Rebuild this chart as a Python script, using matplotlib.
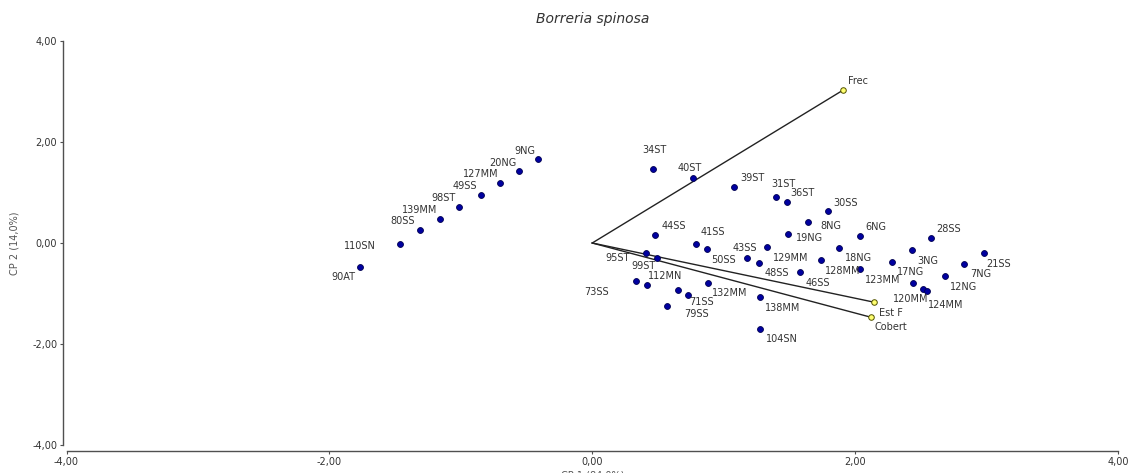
import matplotlib
matplotlib.use("Agg")
import matplotlib.pyplot as plt
from matplotlib.ticker import FuncFormatter

# observations (CP1, CP2)
obs_names = ["9NG", "20NG", "127MM", "49SS", "98ST", "139MM", "80SS", "110SN", "90AT",
             "34ST", "40ST", "39ST", "31ST", "36ST", "30SS", "8NG", "19NG", "6NG",
             "44SS", "41SS", "", "43SS", "50SS", "48SS", "129MM", "46SS", "18NG", "128MM",
             "95ST", "99ST", "73SS", "112MN", "", "71SS", "79SS", "132MM", "138MM", "104SN",
             "28SS", "3NG", "17NG", "123MM", "120MM", "124MM", "12NG", "7NG", "21SS"]
obs_x = [-0.41, -0.56, -0.70, -0.85, -1.01, -1.16, -1.31, -1.46, -1.77,
         0.46, 0.77, 1.08, 1.40, 1.48, 1.79, 1.64, 1.49, 2.04,
         0.48, 0.79, 0.87, 1.33, 1.18, 1.27, 1.74, 1.58, 1.88, 2.04,
         0.41, 0.49, 0.33, 0.42, 0.65, 0.73, 0.57, 0.88, 1.28, 1.28,
         2.58, 2.43, 2.28, 2.44, 2.52, 2.55, 2.68, 2.83, 2.98]
obs_y = [1.67, 1.43, 1.19, 0.96, 0.71, 0.47, 0.25, -0.01, -0.48,
         1.46, 1.28, 1.10, 0.92, 0.81, 0.64, 0.41, 0.17, 0.13,
         0.15, -0.01, -0.12, -0.07, -0.30, -0.40, -0.34, -0.57, -0.10, -0.51,
         -0.19, -0.30, -0.75, -0.83, -0.93, -1.02, -1.25, -0.79, -1.06, -1.70,
         0.09, -0.14, -0.38, -0.80, -0.91, -0.96, -0.66, -0.42, -0.20]

# variables (biplot vectors)
var_names = ["Frec", "Est F", "Cobert"]
var_x = [1.91, 2.14, 2.12]
var_y = [3.03, -1.17, -1.47]

# label offsets in pixels (dx right, dy down)
label_off = {
    "9NG": (-13, -8), "20NG": (-16, -8), "127MM": (-19, -9), "49SS": (-16, -9),
    "98ST": (-16, -9), "139MM": (-20, -9), "80SS": (-17, -9), "110SN": (-40, 2),
    "90AT": (-16, 10), "34ST": (2, -19), "40ST": (-4, -10), "39ST": (18, -9),
    "31ST": (7, -13), "36ST": (16, -9), "30SS": (18, -8), "8NG": (23, 4),
    "19NG": (21, 4), "6NG": (15, -9), "44SS": (18, -9), "41SS": (17, -12),
    "43SS": (-22, 1), "50SS": (-24, 2), "48SS": (18, 10), "129MM": (-30, -2),
    "46SS": (18, 11), "18NG": (19, 10), "128MM": (-18, 2), "95ST": (-29, 5),
    "99ST": (-13, 8), "73SS": (-39, 11), "112MN": (18, -9), "71SS": (13, 7),
    "79SS": (29, 8), "132MM": (22, 10), "138MM": (22, 11), "104SN": (21, 10),
    "28SS": (17, -9), "3NG": (16, 11), "17NG": (19, 10), "123MM": (-30, -3),
    "120MM": (-13, 10), "124MM": (18, 14), "12NG": (19, 11), "7NG": (17, 10),
    "21SS": (15, 11), "Frec": (15, -9), "Est F": (17, 11), "Cobert": (20, 10),
}

W, H = 1133, 473
fig = plt.figure(figsize=(W / 100, H / 100), dpi=100)
ax = fig.add_axes([66.5 / W, 1 - 445 / H, (1118 - 66.5) / W, (445 - 41) / H])

# vectors from origin
for vx, vy in zip(var_x, var_y):
    ax.plot([0, vx], [0, vy], color="#222222", lw=1.0, zorder=2)

ax.scatter(obs_x, obs_y, s=18, c="#0000a0", edgecolors="#000050", linewidths=0.6, zorder=3)
ax.scatter(var_x, var_y, s=16, c="#ffff70", edgecolors="#505000", linewidths=0.7, zorder=3)

for name, x, y in list(zip(obs_names, obs_x, obs_y)) + list(zip(var_names, var_x, var_y)):
    if not name:
        continue
    dx, dy = label_off[name]
    ax.annotate(name, (x, y), xytext=(dx, -dy), textcoords="offset pixels",
                ha="center", va="center", fontsize=7, color="#333333", zorder=4)

ax.set_xlim(-4, 4)
ax.set_ylim(-4, 4)
ax.set_xticks([-4, -2, 0, 2, 4])
ax.set_yticks([-4, -2, 0, 2, 4])
fmt = FuncFormatter(lambda v, p: f"{v:.2f}".replace(".", ","))
ax.xaxis.set_major_formatter(fmt)
ax.yaxis.set_major_formatter(fmt)

for s in ["top", "right"]:
    ax.spines[s].set_visible(False)
ax.spines["left"].set_position(("outward", 2.6))
ax.spines["bottom"].set_position(("outward", 4.3))
for s in ["left", "bottom"]:
    ax.spines[s].set_color("#505050")
    ax.spines[s].set_linewidth(1.0)
ax.tick_params(direction="out", length=2.5, width=0.8, color="#505050",
               labelsize=7, labelcolor="#333333", pad=1.5)

ax.set_ylabel("CP 2 (14,0%)", fontsize=7, color="#555555", labelpad=9)
# x label sits partly below the figure edge, as in the original
fig.text(593 / W, -0.006, "CP 1 (84,0%)", fontsize=7, color="#555555",
         ha="center", va="center")

ax.set_title("Borreria spinosa", fontsize=10, style="italic", color="#333333", pad=13)

fig.savefig("out.png", dpi=100)
